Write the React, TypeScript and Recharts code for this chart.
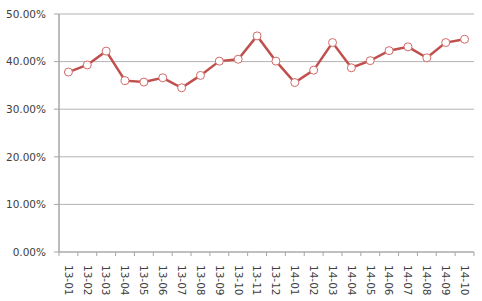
import React from 'react';
import { LineChart, Line, XAxis, YAxis, CartesianGrid } from 'recharts';

const categories = ['13-01','13-02','13-03','13-04','13-05','13-06','13-07','13-08','13-09','13-10','13-11','13-12','14-01','14-02','14-03','14-04','14-05','14-06','14-07','14-08','14-09','14-10'];
const values = [37.8, 39.3, 42.2, 36.0, 35.7, 36.6, 34.5, 37.1, 40.1, 40.5, 45.4, 40.1, 35.6, 38.2, 44.0, 38.7, 40.2, 42.3, 43.1, 40.8, 44.0, 44.7];
const yTicks = [0, 10, 20, 30, 40, 50];

const data = categories.map((c, i) => ({ cat: c, v: values[i] }));

const W = 482;
const H = 301;
const LEFT = 59;
const RIGHT = 8;
const TOP = 14;
const BOTTOM = 49;
const STEP = (W - LEFT - RIGHT) / categories.length;
const FONT = 'DejaVu Sans';
const TEXT = '#404040';
const AXIS = '#A6A6A6';

const XTick = (props: any) => {
  const { x, y, payload, index } = props;
  const left = x - STEP / 2;
  return (
    <g>
      <line x1={left} x2={left} y1={y - 8} y2={y - 4} stroke={AXIS} strokeWidth={1} />
      {index === categories.length - 1 && (
        <line x1={x + STEP / 2} x2={x + STEP / 2} y1={y - 8} y2={y - 4} stroke={AXIS} strokeWidth={1} />
      )}
      <text
        transform={`translate(${x},${y + 5}) rotate(90)`}
        textAnchor="start"
        dy="0.35em"
        fontFamily={FONT}
        fontSize={10.5}
        fill={TEXT}
      >
        {payload.value}
      </text>
    </g>
  );
};

export default function App() {
  return (
    <div style={{ position: 'fixed', left: 0, top: 0, width: W, height: H, background: '#fff' }}>
      <LineChart width={W} height={H} data={data} margin={{ top: TOP, right: RIGHT, bottom: 0, left: 0 }}>
        <CartesianGrid vertical={false} stroke="#B3B3B3" strokeWidth={1} />
        <XAxis
          dataKey="cat"
          height={BOTTOM}
          interval={0}
          padding={{ left: STEP / 2, right: STEP / 2 }}
          tick={<XTick />}
          tickLine={false}
          axisLine={{ stroke: AXIS, strokeWidth: 1 }}
        />
        <YAxis
          width={LEFT}
          domain={[0, 50]}
          ticks={yTicks}
          tickFormatter={(v: number) => v.toFixed(2) + '%'}
          tick={{ fontFamily: FONT, fontSize: 10.5, fill: TEXT }}
          tickSize={5}
          tickMargin={8}
          tickLine={{ stroke: AXIS }}
          axisLine={{ stroke: AXIS, strokeWidth: 1.5 }}
          allowDataOverflow
        />
        <Line
          type="linear"
          dataKey="v"
          stroke="#C0504D"
          strokeWidth={2.5}
          dot={{ r: 4, fill: '#fff', stroke: '#D06A67', strokeWidth: 1 }}
          isAnimationActive={false}
        />
      </LineChart>
    </div>
  );
}
